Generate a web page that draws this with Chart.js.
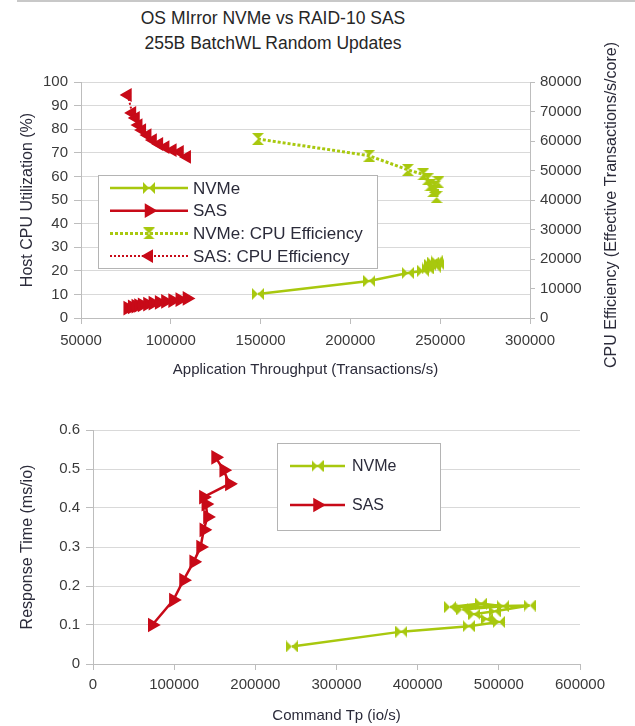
<!DOCTYPE html>
<html>
<head>
<meta charset="utf-8">
<script src="https://cdn.jsdelivr.net/npm/chart.js@4/dist/chart.umd.min.js"></script>
<style>
  html, body { margin: 0; padding: 0; background: #fff; }
  body { width: 635px; height: 726px; position: relative; overflow: hidden; font-family: "Liberation Sans", Arial, sans-serif; }
  .frame { position: absolute; left: 17px; top: 0; width: 618px; height: 0; border-top: 2px solid #c8c8c8; }
  .title { position: absolute; left: 73px; width: 400px; text-align: center; font-size: 17.5px; color: #262626; line-height: 24px; }
  #topWrap { position: absolute; left: 0; top: 0; width: 635px; height: 385px; }
  #botWrap { position: absolute; left: 0; top: 390px; width: 635px; height: 336px; }
</style>
</head>
<body>
<div class="frame"></div>
<div class="title" style="top:6px">OS MIrror NVMe vs RAID-10 SAS</div>
<div class="title" style="top:31px">255B BatchWL Random Updates</div>
<div id="topWrap"><canvas id="top" width="635" height="385"></canvas></div>
<div id="botWrap"><canvas id="bot" width="635" height="336"></canvas></div>
<script>
// --- top chart: throughput vs host CPU and CPU efficiency
const nvmeThroughput = [148500, 210500, 232000, 240500, 243000, 244500, 246000, 247000, 248000, 249000];
const nvmeCpu = [10.2, 15.7, 19.1, 20.0, 21.0, 22.5, 23.5, 21.8, 24.0, 22.8];
const nvmeEff = [60700, 55000, 50200, 48700, 47000, 45000, 43000, 44500, 41000, 46000];

const sasThroughput = [76000, 78500, 80500, 82000, 84000, 87000, 90000, 93500, 97000, 101000, 105000, 109000];
const sasCpu = [4.2, 4.7, 5.0, 5.3, 5.6, 5.9, 6.3, 6.6, 7.0, 7.4, 7.8, 8.3];
const sasEff = [75600, 69500, 67800, 65400, 63700, 62000, 60300, 59000, 57900, 56900, 56300, 54600];

const throughputTicks = [50000, 100000, 150000, 200000, 250000, 300000];
const cpuTicks = [0, 10, 20, 30, 40, 50, 60, 70, 80, 90, 100];
const effTicks = [0, 10000, 20000, 30000, 40000, 50000, 60000, 70000, 80000];

// --- bottom chart: command throughput vs response time
const nvmeCmdTp = [245000, 380000, 463000, 500000, 485000, 470000, 495000, 538000, 440000, 478000, 505000, 455000];
const nvmeResp = [0.045, 0.083, 0.097, 0.108, 0.115, 0.128, 0.135, 0.150, 0.146, 0.155, 0.148, 0.140];

const sasCmdTp = [73000, 99000, 111500, 124000, 132500, 136500, 141000, 139000, 136000, 168000, 161000, 151000];
const sasResp = [0.100, 0.164, 0.215, 0.262, 0.300, 0.344, 0.377, 0.410, 0.428, 0.462, 0.497, 0.530];

const cmdTpTicks = [0, 100000, 200000, 300000, 400000, 500000, 600000];
const respTicks = [0, 0.1, 0.2, 0.3, 0.4, 0.5, 0.6];

const GREEN = '#a8c80e';
const RED = '#c80a18';
const GRID = '#d9d9d9';
const AXIS = '#bdbdbd';
const FONT = '"Liberation Sans", Arial, sans-serif';

Chart.defaults.font.family = FONT;
Chart.defaults.color = '#3a3a3a';

function bowtie(color, vertical) {
  const c = document.createElement('canvas');
  c.width = 12; c.height = 12;
  const g = c.getContext('2d');
  g.fillStyle = color;
  g.beginPath();
  if (vertical) {
    g.moveTo(0, 0); g.lineTo(12, 0); g.lineTo(6, 6); g.closePath();
    g.moveTo(0, 12); g.lineTo(12, 12); g.lineTo(6, 6); g.closePath();
  } else {
    g.moveTo(0, 0); g.lineTo(6, 6); g.lineTo(0, 12); g.closePath();
    g.moveTo(12, 0); g.lineTo(6, 6); g.lineTo(12, 12); g.closePath();
  }
  g.fill();
  return c;
}
const tieH = bowtie(GREEN, false);
const tieV = bowtie(GREEN, true);

function pts(xs, ys) { return xs.map((x, i) => ({ x: x, y: ys[i] })); }
const plain = v => String(+v.toFixed(1));

// boxed legend inside the plot, like the excel one
const boxLegend = {
  id: 'boxLegend',
  afterDatasetsDraw(chart, args, o) {
    const ctx = chart.ctx;
    ctx.save();
    ctx.fillStyle = '#fff';
    ctx.strokeStyle = '#b4b4b4';
    ctx.lineWidth = 1;
    ctx.fillRect(o.x, o.y, o.w, o.h);
    ctx.strokeRect(o.x + 0.5, o.y + 0.5, o.w, o.h);
    chart.data.datasets.forEach((ds, i) => {
      const y = o.y + o.first + i * o.step;
      ctx.strokeStyle = ds.borderColor;
      ctx.lineWidth = ds.borderWidth;
      ctx.setLineDash(ds.borderDash || []);
      ctx.beginPath();
      ctx.moveTo(o.x + o.l0, y);
      ctx.lineTo(o.x + o.l1, y);
      ctx.stroke();
      ctx.setLineDash([]);
      const mx = o.x + (o.l0 + o.l1) / 2;
      if (ds.pointStyle instanceof HTMLCanvasElement) {
        ctx.drawImage(ds.pointStyle, mx - 6, y - 6);
      } else {
        ctx.fillStyle = ds.pointBackgroundColor;
        ctx.strokeStyle = ds.pointBackgroundColor;
        Chart.helpers.drawPoint(ctx, { pointStyle: ds.pointStyle, rotation: ds.pointRotation, radius: ds.pointRadius, borderWidth: 1 }, mx, y);
      }
      ctx.fillStyle = '#2b2b3a';
      ctx.font = o.font + 'px ' + FONT;
      ctx.textBaseline = 'middle';
      ctx.textAlign = 'left';
      ctx.fillText(ds.label, o.x + o.tx, y + 1);
    });
    ctx.restore();
  }
};

// right axis title reads bottom-to-top, as in the original
const rightTitle = {
  id: 'rightTitle',
  afterDraw(chart, args, o) {
    if (!o.text) return;
    const ctx = chart.ctx;
    ctx.save();
    ctx.translate(o.x, o.y);
    ctx.rotate(-Math.PI / 2);
    ctx.font = o.size + 'px ' + FONT;
    ctx.fillStyle = '#2b2b3a';
    ctx.textAlign = 'center';
    ctx.textBaseline = 'middle';
    ctx.fillText(o.text, 0, 0);
    ctx.restore();
  }
};

function fixedTicks(list) {
  return scale => { scale.ticks = list.map(v => ({ value: v })); };
}

new Chart(document.getElementById('top'), {
  type: 'scatter',
  plugins: [boxLegend, rightTitle],
  data: {
    datasets: [
      { label: 'NVMe', data: pts(nvmeThroughput, nvmeCpu), yAxisID: 'y', showLine: true,
        borderColor: GREEN, borderWidth: 2.5, pointStyle: tieH, pointRadius: 6, pointBackgroundColor: GREEN },
      { label: 'SAS', data: pts(sasThroughput, sasCpu), yAxisID: 'y', showLine: true,
        borderColor: RED, borderWidth: 2.5, pointStyle: 'triangle', pointRotation: 90, pointRadius: 6,
        pointBackgroundColor: RED, pointBorderColor: RED },
      { label: 'NVMe: CPU Efficiency', data: pts(nvmeThroughput, nvmeEff), yAxisID: 'y2', showLine: true,
        borderColor: GREEN, borderWidth: 3, borderDash: [3, 2], pointStyle: tieV, pointRadius: 6, pointBackgroundColor: GREEN },
      { label: 'SAS: CPU Efficiency', data: pts(sasThroughput, sasEff), yAxisID: 'y2', showLine: true,
        borderColor: RED, borderWidth: 2, borderDash: [2, 2], pointStyle: 'triangle', pointRotation: -90, pointRadius: 6,
        pointBackgroundColor: RED, pointBorderColor: RED }
    ]
  },
  options: {
    responsive: false,
    animation: false,
    layout: { padding: { top: 82, left: 0, right: 0, bottom: 0 } },
    plugins: {
      legend: { display: false },
      tooltip: { enabled: false },
      boxLegend: { x: 98, y: 175, w: 279, h: 93, first: 13, step: 22.7, l0: 12, l1: 90, tx: 95, font: 17 },
      rightTitle: { text: 'CPU Efficiency (Effective Transactions/s/core)', x: 612, y: 205, size: 16 }
    },
    scales: {
      x: {
        type: 'linear', min: 50000, max: 300000,
        afterBuildTicks: fixedTicks(throughputTicks),
        afterFit: s => { s.height = 67; },
        grid: { display: true, drawOnChartArea: false, color: AXIS, tickLength: 6 },
        border: { color: AXIS },
        ticks: { padding: 8, maxRotation: 0, font: { size: 15 }, callback: plain },
        title: { display: true, text: 'Application Throughput (Transactions/s)', font: { size: 15 }, padding: { bottom: 6 }, color: '#2b2b3a' }
      },
      y: {
        position: 'left', min: 0, max: 100,
        afterBuildTicks: fixedTicks(cpuTicks),
        afterFit: s => { s.width = 81; },
        grid: { color: GRID, tickColor: AXIS, tickLength: 7 },
        border: { color: AXIS },
        ticks: { padding: 6, font: { size: 15 }, callback: plain },
        title: { display: true, text: 'Host CPU Utilization (%)', font: { size: 16 }, padding: { top: 18 }, color: '#2b2b3a' }
      },
      y2: {
        position: 'right', min: 0, max: 80000,
        afterBuildTicks: fixedTicks(effTicks),
        afterFit: s => { s.width = 105; },
        grid: { drawOnChartArea: false, color: AXIS, tickLength: 5 },
        border: { color: AXIS },
        ticks: { padding: 5, font: { size: 15 }, callback: plain }
      }
    }
  }
});

new Chart(document.getElementById('bot'), {
  type: 'scatter',
  plugins: [boxLegend],
  data: {
    datasets: [
      { label: 'NVMe', data: pts(nvmeCmdTp, nvmeResp), showLine: true,
        borderColor: GREEN, borderWidth: 2.5, pointStyle: tieH, pointRadius: 6, pointBackgroundColor: GREEN },
      { label: 'SAS', data: pts(sasCmdTp, sasResp), showLine: true,
        borderColor: RED, borderWidth: 2.5, pointStyle: 'triangle', pointRotation: 90, pointRadius: 6,
        pointBackgroundColor: RED, pointBorderColor: RED }
    ]
  },
  options: {
    responsive: false,
    animation: false,
    layout: { padding: { top: 40, left: 0, right: 55, bottom: 0 } },
    plugins: {
      legend: { display: false },
      tooltip: { enabled: false },
      boxLegend: { x: 277, y: 53, w: 163, h: 87, first: 23, step: 39, l0: 13, l1: 68, tx: 75, font: 16 }
    },
    scales: {
      x: {
        type: 'linear', min: 0, max: 600000,
        afterBuildTicks: fixedTicks(cmdTpTicks),
        afterFit: s => { s.height = 62; },
        grid: { display: true, drawOnChartArea: false, color: AXIS, tickLength: 6 },
        border: { color: AXIS },
        ticks: { padding: 6, maxRotation: 0, font: { size: 15 }, callback: plain },
        title: { display: true, text: 'Command Tp (io/s)', font: { size: 15 }, padding: { bottom: 1 }, color: '#2b2b3a' }
      },
      y: {
        min: 0, max: 0.6,
        afterBuildTicks: fixedTicks(respTicks),
        afterFit: s => { s.width = 93; },
        grid: { color: GRID, tickColor: AXIS, tickLength: 7 },
        border: { color: AXIS },
        ticks: { padding: 6, font: { size: 15 }, callback: plain },
        title: { display: true, text: 'Response Time (ms/io)', font: { size: 16 }, padding: { top: 18 }, color: '#2b2b3a' }
      }
    }
  }
});
</script>
</body>
</html>
